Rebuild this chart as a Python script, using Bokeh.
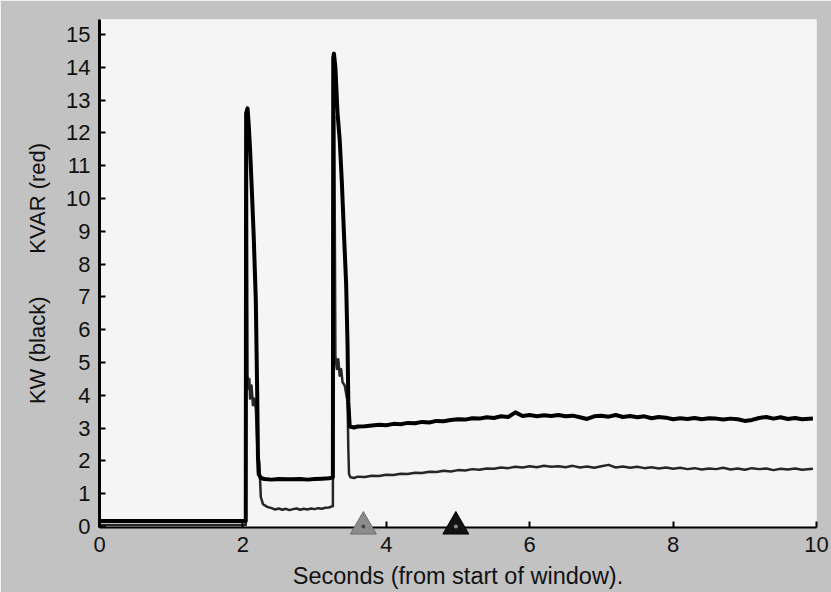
from bokeh.plotting import figure
from bokeh.models import Range1d, FixedTicker, ColumnDataSource
from bokeh.embed import file_html
from bokeh.resources import INLINE

# ---- data ----
kw_x = [0.0, 2.04,
        2.045, 2.065, 2.08, 2.10, 2.12, 2.15, 2.18, 2.20, 2.21, 2.22, 2.25,
        2.3, 2.4, 2.5, 2.6, 2.7, 2.8, 2.9, 3.0, 3.1, 3.2, 3.25, 3.255,
        3.26, 3.27, 3.29, 3.32, 3.35, 3.38, 3.41, 3.44, 3.46, 3.47, 3.49,
        3.55, 3.6, 3.7, 3.8, 3.9, 4.0, 4.1, 4.2, 4.3, 4.4, 4.5, 4.6, 4.7, 4.8, 4.9,
        5.0, 5.1, 5.2, 5.3, 5.4, 5.5, 5.6, 5.7, 5.8, 5.9,
        6.0, 6.1, 6.2, 6.3, 6.4, 6.5, 6.6, 6.7, 6.8, 6.9,
        7.0, 7.1, 7.2, 7.3, 7.4, 7.5, 7.6, 7.7, 7.8, 7.9,
        8.0, 8.1, 8.2, 8.3, 8.4, 8.5, 8.6, 8.7, 8.8, 8.9,
        9.0, 9.1, 9.2, 9.3, 9.4, 9.5, 9.6, 9.7, 9.8, 9.95]
kw_y = [0.17, 0.17,
        12.6, 12.75, 12.3, 11.5, 10.5, 8.9, 6.9, 4.0, 2.1, 1.6, 1.48,
        1.45, 1.43, 1.45, 1.44, 1.44, 1.45, 1.43, 1.45, 1.46, 1.47, 1.49, 1.5,
        14.3, 14.42, 14.0, 12.6, 11.8, 10.5, 8.9, 7.4, 5.5, 3.8, 3.05,
        3.02, 3.05, 3.06, 3.08, 3.10, 3.09, 3.13, 3.12, 3.16, 3.15, 3.19, 3.17, 3.22, 3.21, 3.25,
        3.27, 3.26, 3.30, 3.29, 3.33, 3.31, 3.36, 3.34, 3.48, 3.37,
        3.40, 3.36, 3.39, 3.37, 3.40, 3.36, 3.38, 3.33, 3.28, 3.36,
        3.38, 3.35, 3.40, 3.34, 3.37, 3.33, 3.36, 3.30, 3.34, 3.32,
        3.27, 3.30, 3.28, 3.31, 3.27, 3.30, 3.29, 3.26, 3.29, 3.27,
        3.22, 3.25, 3.31, 3.34, 3.29, 3.33, 3.28, 3.31, 3.27, 3.29]

kvar_x = [0.0, 2.04,
          2.045, 2.055, 2.065, 2.08, 2.09, 2.10, 2.12, 2.14, 2.16, 2.18,
          2.20, 2.23, 2.25, 2.28, 2.34,
          2.4, 2.45, 2.5, 2.55, 2.6, 2.65, 2.7, 2.75, 2.8, 2.85, 2.9, 2.95,
          3.0, 3.05, 3.1, 3.15, 3.2, 3.25, 3.255,
          3.26, 3.275, 3.29, 3.31, 3.33, 3.35, 3.37, 3.39, 3.42, 3.46, 3.47, 3.48, 3.5,
          3.55, 3.6, 3.7, 3.8, 3.9, 4.0, 4.1, 4.2, 4.3, 4.4, 4.5, 4.6, 4.7, 4.8, 4.9,
          5.0, 5.1, 5.2, 5.3, 5.4, 5.5, 5.6, 5.7, 5.8, 5.9,
          6.0, 6.1, 6.2, 6.3, 6.4, 6.5, 6.6, 6.7, 6.8, 6.9,
          7.0, 7.1, 7.2, 7.3, 7.4, 7.5, 7.6, 7.7, 7.8, 7.9,
          8.0, 8.1, 8.2, 8.3, 8.4, 8.5, 8.6, 8.7, 8.8, 8.9,
          9.0, 9.1, 9.2, 9.3, 9.4, 9.5, 9.6, 9.7, 9.8, 9.95]
kvar_y = [0.05, 0.05,
          11.4, 11.4, 4.6, 4.2, 4.5, 3.9, 4.3, 3.7, 3.9, 3.6,
          2.5, 1.9, 0.9, 0.68, 0.6,
          0.56, 0.52, 0.55, 0.51, 0.54, 0.50, 0.53, 0.55, 0.51, 0.54, 0.52, 0.55,
          0.53, 0.56, 0.54, 0.57, 0.58, 0.62, 0.62,
          12.6, 12.5, 5.2, 4.8, 5.1, 4.6, 4.8, 4.4, 4.3, 3.8, 2.4, 1.6, 1.5,
          1.48, 1.52, 1.51, 1.55, 1.54, 1.58, 1.57, 1.61, 1.60, 1.64, 1.63, 1.67, 1.66, 1.70, 1.68,
          1.72, 1.71, 1.75, 1.73, 1.77, 1.76, 1.80, 1.78, 1.82, 1.80,
          1.84, 1.81, 1.85, 1.82, 1.84, 1.81, 1.85, 1.80, 1.83, 1.79,
          1.84, 1.88, 1.80, 1.83, 1.79, 1.82, 1.78, 1.81, 1.77, 1.80,
          1.76, 1.79, 1.75, 1.78, 1.74, 1.77, 1.75, 1.79, 1.74, 1.77,
          1.73, 1.78, 1.75, 1.77, 1.72, 1.76, 1.74, 1.77, 1.73, 1.76]

marker_x = [3.68, 4.97]
marker_y = [0.0, 0.0]
marker_fill = ["#8c8c8c", "#121212"]
marker_line = ["#6e6e6e", "#000000"]
marker_dot = ["#4a4a4a", "#8a8a8a"]

x_ticks = [0, 2, 4, 6, 8, 10]
y_ticks = [0, 1, 2, 3, 4, 5, 6, 7, 8, 9, 10, 11, 12, 13, 14, 15]

x_label = "Seconds (from start of window)."
y_label = "KW (black)\u00a0\u00a0\u00a0\u00a0\u00a0\u00a0\u00a0KVAR (red)"

# ---- figure ----
p = figure(width=831, height=592, output_backend="svg", toolbar_location=None,
           x_range=Range1d(0, 10), y_range=Range1d(-0.03, 15.46),
           min_border_left=99, min_border_right=15, min_border_top=19, min_border_bottom=65)
p.border_fill_color = "#c2c2c2"
p.background_fill_color = "#f5f5f5"
p.outline_line_color = None
p.grid.visible = False

FONT = "Liberation Sans"
for ax in (p.xaxis[0], p.yaxis[0]):
    ax.axis_line_color = "#000000"
    ax.major_tick_line_color = "#000000"
    ax.major_tick_line_width = 2
    ax.major_tick_in = 6
    ax.major_tick_out = 0
    ax.minor_tick_line_color = None
    ax.major_label_text_font = FONT
    ax.major_label_text_font_size = "22px"
    ax.major_label_text_color = "#111111"
    ax.axis_label_text_font = FONT
    ax.axis_label_text_font_style = "normal"
    ax.axis_label_text_color = "#111111"

p.xaxis[0].ticker = FixedTicker(ticks=x_ticks)
p.yaxis[0].ticker = FixedTicker(ticks=y_ticks)
p.xaxis[0].axis_line_width = 2
p.yaxis[0].axis_line_width = 3
p.xaxis[0].axis_label = x_label
p.yaxis[0].axis_label = y_label
p.xaxis[0].axis_label_text_font_size = "23.5px"
p.yaxis[0].axis_label_text_font_size = "22px"
p.xaxis[0].major_label_standoff = 9
p.xaxis[0].axis_label_standoff = 8
p.yaxis[0].major_label_standoff = 9
p.yaxis[0].axis_label_standoff = 13

p.line(kvar_x, kvar_y, line_color="#262626", line_width=2.5, line_join="round")
p.line(kw_x, kw_y, line_color="#000000", line_width=4, line_join="round")

src = ColumnDataSource(dict(x=marker_x, y=marker_y, fill=marker_fill,
                            line=marker_line, dot=marker_dot))
tri = p.scatter("x", "y", source=src, marker="triangle", size=26,
                fill_color="fill", line_color="line", line_width=1)
tri.level = "overlay"
dots = p.scatter("x", "y", source=src, marker="circle", size=4,
                 fill_color="dot", line_color=None)
dots.level = "overlay"

open("out.html", "w").write(file_html(p, INLINE))
